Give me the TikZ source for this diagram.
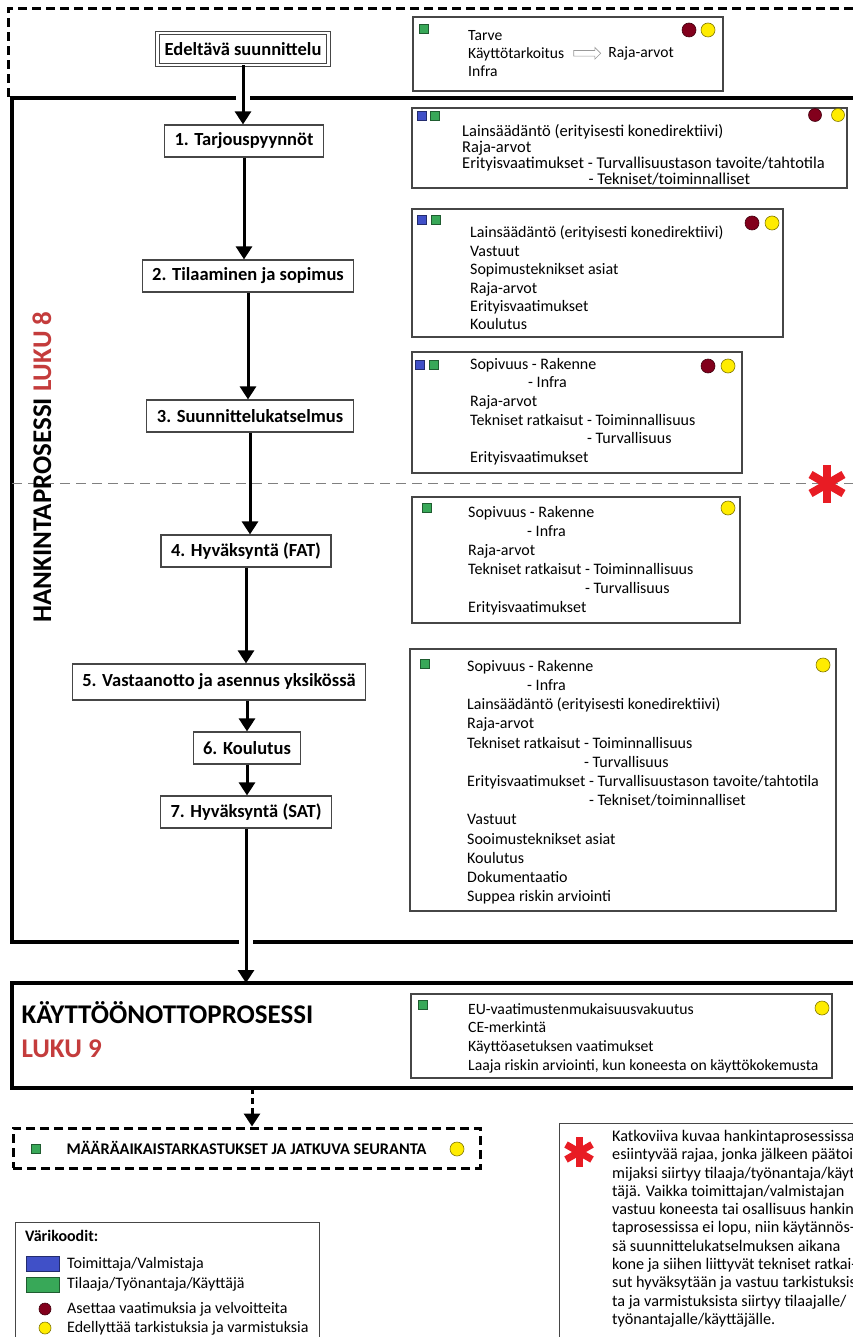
\documentclass[tikz,border=0pt]{standalone}
\usepackage{fontspec}
\setmainfont{Carlito}
\usetikzlibrary{arrows.meta,shapes.arrows}
\definecolor{sininen}{RGB}{64,80,200}
\definecolor{vihrea}{RGB}{56,168,88}
\definecolor{tpunainen}{RGB}{130,0,28}
\definecolor{keltainen}{RGB}{255,236,0}
\definecolor{lukupun}{RGB}{196,60,60}
\definecolor{tahtipun}{RGB}{232,28,36}
\definecolor{viiva}{RGB}{70,70,70}

\begin{document}
\begin{tikzpicture}[x=1pt, y=-1pt,
  vaihe/.style={draw=viiva, line width=1.2pt, fill=white, minimum height=32pt,
                inner xsep=10pt, font=\fontsize{18.5}{22}\selectfont\bfseries},
  kehys/.style={draw=viiva, line width=1.2pt, inner sep=0pt},
  infoteksti/.style={anchor=north west, inner sep=0pt, align=left,
                     font=\fontsize{16}{#1}\selectfont},
  nelio/.style={draw=#1!55!black, fill=#1, minimum size=9pt, inner sep=0pt, line width=.5pt},
  pallo/.style={circle, draw=#1!50!black, fill=#1, minimum size=14pt, inner sep=0pt, line width=.6pt},
  nuoli/.style={line width=3pt, -{Triangle[width=16pt,length=13pt]}},
  paksu/.style={line width=3.5pt},
  tahti/.style={tahtipun, line width=#1}]
\useasboundingbox (0,0) rectangle (853,1337);
\clip (0,0) rectangle (853,1337);
\fill[white] (0,0) rectangle (853,1337);

\draw[line width=3pt, dash pattern=on 9pt off 5pt] (8,97) -- (8,9) -- (870,9);
\draw[paksu] (236,98) -- (12,98) -- (12,942) -- (239,942);
\draw[paksu] (250,98) -- (870,98);
\draw[paksu] (253,942) -- (870,942);
\draw[gray, line width=1pt, dash pattern=on 10pt off 6pt] (12,483) -- (870,483);
\draw[paksu] (870,983) -- (12,983) -- (12,1088) -- (870,1088);

\node[vaihe, double, double distance=2.5pt, line width=.9pt, inner xsep=7pt] (n0) at (243,49) {Edeltävä suunnittelu};
\node[vaihe] (n1) at (244,141) {1. Tarjouspyynnöt};
\node[vaihe] (n2) at (248,276) {2. Tilaaminen ja sopimus};
\node[vaihe] (n3) at (250,416) {3. Suunnittelukatselmus};
\node[vaihe] (n4) at (246,551) {4. Hyväksyntä (FAT)};
\node[vaihe, minimum height=36pt] (n5) at (219,682) {5. Vastaanotto ja asennus yksikössä};
\node[vaihe] (n6) at (247,748) {6. Koulutus};
\node[vaihe] (n7) at (246,812) {7. Hyväksyntä (SAT)};

\draw[nuoli] (n0.south) -- (n0.south |- n1.north);
\draw[nuoli] (n1.south) -- (n1.south |- n2.north);
\draw[nuoli] (n2.south) -- (n2.south |- n3.north);
\draw[nuoli] (n3.south) -- (n3.south |- n4.north);
\draw[nuoli] (n4.south) -- (n4.south |- n5.north);
\draw[nuoli] (n6.north |- n5.south) -- (n6.north);
\draw[nuoli] (n6.south) -- (n6.south |- n7.north);
\coordinate (kayttoyla) at (246,983);
\draw[nuoli] (n7.south) -- (kayttoyla);

\node[rotate=90, font=\fontsize{27}{32}\selectfont\bfseries] (hankinta) at (42,467)
  {HANKINTAPROSESSI {\color{lukupun}LUKU 8}};

% tietolaatikot
\node[kehys, minimum width=310pt, minimum height=74pt] (k0) at (568,54) {};
\node[nelio=vihrea] (k0v) at (423.5,28.5) {};
\node[pallo=tpunainen] (k0p) at (689,30) {};
\node[pallo=keltainen] (k0k) at (708,30) {};
\node[infoteksti=18, font=\fontsize{15.6}{18}\selectfont] (k0t) at (468,30) {Tarve\\Käyttötarkoitus\\Infra};
\node[single arrow, draw=gray!80, line width=.7pt, minimum height=27pt, inner xsep=0pt, inner ysep=2.5pt,
      single arrow head extend=3pt, anchor=west] (k0n) at ([xshift=9pt]k0t.east) {};
\node[infoteksti=18, font=\fontsize{15.6}{18}\selectfont, anchor=west] (k0r) at ([xshift=7pt]k0n.east) {Raja-arvot};

\node[kehys, minimum width=435pt, minimum height=80pt] (k1) at (629.5,148) {};
\node[nelio=sininen] (k1s) at (421.5,116) {};
\node[nelio=vihrea] (k1v) at (435,116) {};
\node[pallo=tpunainen, minimum size=13pt] (k1p) at (815,115) {};
\node[pallo=keltainen, minimum size=13pt] (k1k) at (838,115) {};
\node[infoteksti=16, font=\fontsize{16.5}{16}\selectfont] (k1t) at (462,124)
  {Lainsäädäntö (erityisesti konedirektiivi)\\
   Raja-arvot\\
   Erityisvaatimukset - Turvallisuustason tavoite/tahtotila\\
   \phantom{Erityisvaatimukset - }\hspace*{-8pt}- Tekniset/toiminnalliset};

\node[kehys, minimum width=371pt, minimum height=128pt] (k2) at (597.5,273) {};
\node[nelio=sininen] (k2s) at (421.5,219.5) {};
\node[nelio=vihrea] (k2v) at (436,219.5) {};
\node[pallo=tpunainen] (k2p) at (752,223) {};
\node[pallo=keltainen] (k2k) at (772,223) {};
\node[infoteksti=18.4] (k2t) at (470,226)
  {Lainsäädäntö (erityisesti konedirektiivi)\\
   Vastuut\\
   Sopimusteknikset asiat\\
   Raja-arvot\\
   Erityisvaatimukset\\
   Koulutus};

\node[kehys, minimum width=330pt, minimum height=121pt] (k3) at (577,412.5) {};
\node[nelio=sininen] (k3s) at (420,365) {};
\node[nelio=vihrea] (k3v) at (433.5,365) {};
\node[pallo=tpunainen] (k3p) at (708,366) {};
\node[pallo=keltainen] (k3k) at (728,366) {};
\node[infoteksti=18.6] (k3t) at (470,358)
  {Sopivuus - Rakenne\\
   \hspace*{58pt}- Infra\\
   Raja-arvot\\
   Tekniset ratkaisut - Toiminnallisuus\\
   \phantom{Tekniset ratkaisut }- Turvallisuus\\
   Erityisvaatimukset};

\node[kehys, minimum width=328pt, minimum height=126pt] (k4) at (576,560) {};
\node[nelio=vihrea] (k4v) at (427,507.5) {};
\node[pallo=keltainen] (k4k) at (728,508) {};
\node[infoteksti=19] (k4t) at (468,506)
  {Sopivuus - Rakenne\\
   \hspace*{59pt}- Infra\\
   Raja-arvot\\
   Tekniset ratkaisut - Toiminnallisuus\\
   \phantom{Tekniset ratkaisut }- Turvallisuus\\
   Erityisvaatimukset};

\node[kehys, minimum width=426pt, minimum height=262pt] (k5) at (623,780) {};
\node[nelio=vihrea] (k5v) at (425,664) {};
\node[pallo=keltainen] (k5k) at (823,665) {};
\node[infoteksti=19.2] (k5t) at (467,660)
  {Sopivuus - Rakenne\\
   \hspace*{60pt}- Infra\\
   Lainsäädäntö (erityisesti konedirektiivi)\\
   Raja-arvot\\
   Tekniset ratkaisut - Toiminnallisuus\\
   \phantom{Tekniset ratkaisut }- Turvallisuus\\
   Erityisvaatimukset - Turvallisuustason tavoite/tahtotila\\
   \phantom{Erityisvaatimukset }- Tekniset/toiminnalliset\\
   Vastuut\\
   Sooimusteknikset asiat\\
   Koulutus\\
   Dokumentaatio\\
   Suppea riskin arviointi};

\coordinate (tahti1) at (827,484);
\foreach \k in {30,90,...,330}
  \draw[tahti=8pt] (tahti1) -- ++(\k:19);

% kayttoonotto
\node[anchor=west, font=\fontsize{27}{32}\selectfont\bfseries] (kaytto) at (18,1013) {KÄYTTÖÖNOTTOPROSESSI};
\node[anchor=west, font=\fontsize{27}{32}\selectfont\bfseries, text=lukupun] (luku9) at (18,1049) {LUKU 9};
\node[kehys, minimum width=421pt, minimum height=84pt] (k6) at (621.5,1036) {};
\node[nelio=vihrea] (k6v) at (423,1005) {};
\node[pallo=keltainen] (k6k) at (822,1008) {};
\node[infoteksti=18.7, font=\fontsize{15.7}{18.7}\selectfont] (k6t) at (468,1003)
  {EU-vaatimustenmukaisuusvakuutus\\
   CE-merkintä\\
   Käyttöasetuksen vaatimukset\\
   Laaja riskin arviointi, kun koneesta on käyttökokemusta};

\coordinate (kayttoala) at (252,1088);
\node[draw, line width=3pt, dash pattern=on 9pt off 5pt, minimum width=467pt, minimum height=40pt,
      font=\fontsize{16.3}{19}\selectfont\bfseries] (seur) at (246.5,1148)
  {MÄÄRÄAIKAISTARKASTUKSET JA JATKUVA SEURANTA};
\draw[nuoli, dash pattern=on 6pt off 4pt] (kayttoala) -- (kayttoala |- seur.north);
\node[nelio=vihrea] (seurv) at (35.5,1149) {};
\node[pallo=keltainen] (seurk) at (457,1149) {};

% selitteet
\node[kehys, anchor=north west, minimum width=304pt, minimum height=130pt] (selite) at (15,1222) {};
\node[anchor=west, inner sep=0pt, font=\fontsize{16}{19}\selectfont\bfseries] (selo) at (25,1236) {Värikoodit:};
\node[draw=sininen!55!black, fill=sininen, minimum width=33pt, minimum height=15pt, inner sep=0pt] (sel1) at (42.5,1263.5) {};
\node[draw=vihrea!55!black, fill=vihrea, minimum width=33pt, minimum height=15pt, inner sep=0pt] (sel2) at (42.5,1284.5) {};
\node[pallo=tpunainen, minimum size=12pt] (sel3) at (45,1309) {};
\node[pallo=keltainen, minimum size=12pt] (sel4) at (45,1328) {};
\node[anchor=west, inner sep=0pt, font=\fontsize{16}{19}\selectfont] (sel1t) at (67,1264) {Toimittaja/Valmistaja};
\node[anchor=west, inner sep=0pt, font=\fontsize{16}{19}\selectfont] (sel2t) at (67,1284) {Tilaaja/Työnantaja/Käyttäjä};
\node[anchor=west, inner sep=0pt, font=\fontsize{16}{19}\selectfont] (sel3t) at (67,1309) {Asettaa vaatimuksia ja velvoitteita};
\node[anchor=west, inner sep=0pt, font=\fontsize{16}{19}\selectfont] (sel4t) at (67,1328) {Edellyttää tarkistuksia ja varmistuksia};

% huomautus
\node[kehys, anchor=north west, minimum width=320pt, minimum height=230pt] (huom) at (559,1123) {};
\coordinate (tahti2) at (579,1152);
\foreach \k in {30,90,...,330}
  \draw[tahti=7pt] (tahti2) -- ++(\k:15);
\node[anchor=north west, inner sep=0pt, align=left, font=\fontsize{16.2}{18.3}\selectfont] (huomt) at (612,1130)
  {Katkoviiva kuvaa hankintaprosessissa\\
   esiintyvää rajaa, jonka jälkeen päätoi-\\
   mijaksi siirtyy tilaaja/työnantaja/käyt-\\
   täjä. Vaikka toimittajan/valmistajan\\
   vastuu koneesta tai osallisuus hankin-\\
   taprosessissa ei lopu, niin käytännös-\\
   sä suunnittelukatselmuksen aikana\\
   kone ja siihen liittyvät tekniset ratkai-\\
   sut hyväksytään ja vastuu tarkistuksis-\\
   ta ja varmistuksista siirtyy tilaajalle/\\
   työnantajalle/käyttäjälle.};
\end{tikzpicture}
\end{document}
